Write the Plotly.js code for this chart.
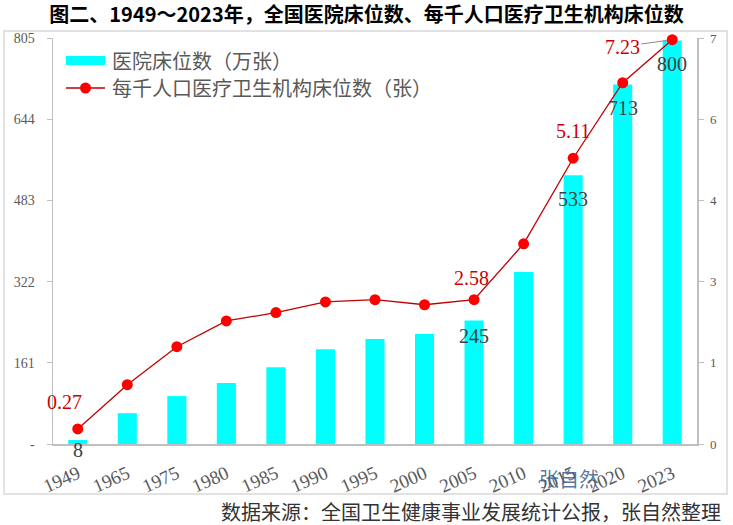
<!DOCTYPE html>
<html>
<head>
<meta charset="utf-8">
<script src="https://cdn.plot.ly/plotly-3.0.1.min.js"></script>
<style>html,body{margin:0;padding:0;background:#fff;}#chart{width:733px;height:525px;}</style>
</head>
<body>
<div id="chart"></div>
<script>
// ---- data ----
const years = ['1949','1965','1975','1980','1985','1990','1995','2000','2005','2010','2015','2020','2023'];
const hospitalBeds = [8, 61, 95, 121, 152, 188, 208, 218, 245, 341, 533, 713, 800];          // 万张
const bedsPerThousand = [0.27, 1.06, 1.74, 2.20, 2.35, 2.54, 2.58, 2.49, 2.58, 3.58, 5.11, 6.46, 7.23]; // 张
const leftTickVals = [0, 161, 322, 483, 644, 805];
const leftTickText = ['-', '161', '322', '483', '644', '805'];
const rightTickVals = [0, 1.452, 2.904, 4.356, 5.808, 7.26];
const rightTickText = ['0', '1', '3', '4', '6', '7'];
const barLabelYears = ['1949', '2005', '2015', '2020', '2023'];
const lineLabelYears = ['1949', '2005', '2015', '2023'];
const barName = '医院床位数（万张）';
const lineName = '每千人口医疗卫生机构床位数（张）';
const titleText = '图二、1949～2023年，全国医院床位数、每千人口医疗卫生机构床位数';
const sourceText = '数据来源：全国卫生健康事业发展统计公报，张自然整理';
const watermarkText = '张自然';

// ---- style helpers ----
const W = 733, H = 525, L = 53, R = 36, T = 38, B = 81;
const pw = W - L - R, ph = H - T - B;
const px = x => (x - L) / pw;
const py = y => (H - B - y) / ph;
const CJK = '"Noto Sans CJK SC", "Noto Sans", sans-serif';
const NUM = '"Liberation Serif", "DejaVu Serif", serif';
const barLabelShift = {'1949': -10, '2005': -16, '2015': -24, '2020': -24, '2023': -23};
const lineLabelOffset = {'1949': [-13, -27], '2005': [-3, -22], '2015': [0, -27]};

const traces = [
  {
    type: 'bar', x: years, y: hospitalBeds, yaxis: 'y', name: barName,
    marker: {color: '#00FFFF'}, showlegend: false, hoverinfo: 'x+y'
  },
  {
    type: 'scatter', mode: 'lines+markers', x: years, y: bedsPerThousand, yaxis: 'y2', name: lineName,
    line: {color: '#C00000', width: 1.3},
    marker: {color: '#FF0000', size: 11},
    cliponaxis: false, showlegend: false
  }
];

const annotations = [];
barLabelYears.forEach(yr => {
  const i = years.indexOf(yr);
  annotations.push({
    x: i, y: hospitalBeds[i], xref: 'x', yref: 'y', text: String(hospitalBeds[i]),
    showarrow: false, yshift: barLabelShift[yr], yanchor: 'middle',
    font: {family: NUM, size: 20, color: '#404040'}
  });
});
lineLabelYears.forEach(yr => {
  const i = years.indexOf(yr);
  const txt = bedsPerThousand[i].toFixed(2);
  if (lineLabelOffset[yr]) {
    annotations.push({
      x: i, y: bedsPerThousand[i], xref: 'x', yref: 'y2', text: txt, showarrow: false,
      xshift: lineLabelOffset[yr][0], yshift: -lineLabelOffset[yr][1],
      font: {family: NUM, size: 20, color: '#CC0000'}
    });
  } else {
    annotations.push({
      x: i, y: bedsPerThousand[i], xref: 'x', yref: 'y2', text: txt,
      showarrow: true, arrowhead: 0, arrowcolor: '#8C8C8C', arrowwidth: 1, standoff: 5,
      ax: -50, ay: 7,
      font: {family: NUM, size: 20, color: '#CC0000'}
    });
  }
});
// legend texts
annotations.push({xref: 'paper', yref: 'paper', x: px(110), y: py(60), xanchor: 'left', yanchor: 'middle',
  text: barName, showarrow: false, font: {family: CJK, size: 20, color: '#595959'}});
annotations.push({xref: 'paper', yref: 'paper', x: px(110), y: py(88), xanchor: 'left', yanchor: 'middle',
  text: lineName, showarrow: false, font: {family: CJK, size: 20, color: '#595959'}});
// source
annotations.push({xref: 'paper', yref: 'paper', x: px(723), y: py(511), xanchor: 'right', yanchor: 'middle',
  text: sourceText, showarrow: false, font: {family: CJK, size: 20, color: '#333333'}});
// watermark
annotations.push({xref: 'paper', yref: 'paper', x: px(569), y: py(478), xanchor: 'center', yanchor: 'middle',
  text: watermarkText, showarrow: false, font: {family: CJK, size: 20, color: 'rgba(60,95,140,0.85)'}});

const shapes = [
  {type: 'rect', xref: 'paper', yref: 'paper', x0: px(4), x1: px(727), y0: py(494), y1: py(31),
   line: {color: '#D9D9D9', width: 1.5}, fillcolor: 'rgba(0,0,0,0)', layer: 'below'},
  {type: 'rect', xref: 'paper', yref: 'paper', x0: px(66), x1: px(105), y0: py(65), y1: py(56),
   line: {width: 0}, fillcolor: '#00FFFF'},
  {type: 'line', xref: 'paper', yref: 'paper', x0: px(66), x1: px(105), y0: py(88), y1: py(88),
   line: {color: '#C00000', width: 1.3}},
  {type: 'circle', xref: 'paper', yref: 'paper', xsizemode: 'pixel', ysizemode: 'pixel',
   xanchor: px(85.5), yanchor: py(88), x0: -5.5, x1: 5.5, y0: -5.5, y1: 5.5,
   line: {width: 0}, fillcolor: '#FF0000'}
];

const layout = {
  width: W, height: H,
  margin: {l: L, r: R, t: T, b: B},
  paper_bgcolor: '#FFFFFF', plot_bgcolor: '#FFFFFF',
  title: {text: titleText, xref: 'container', x: 0.5, xanchor: 'center', y: 1 - 15 / H, yanchor: 'middle',
          font: {family: CJK, size: 20, color: '#000000', weight: 'bold'}},
  bargap: 0.615,
  showlegend: false,
  xaxis: {
    type: 'category', range: [-0.5, years.length - 0.5], autorange: false,
    showline: true, linecolor: '#BFBFBF', linewidth: 1.5, ticks: '',
    tickangle: -24, ticklabelstandoff: 10, showgrid: false, zeroline: false,
    tickfont: {family: NUM, size: 19, color: '#595959'}
  },
  yaxis: {
    range: [0, 805], autorange: false, tickvals: leftTickVals, ticktext: leftTickText,
    showline: true, linecolor: '#BFBFBF', linewidth: 1.5, ticks: 'outside', ticklen: 5, tickcolor: '#BFBFBF',
    ticklabelstandoff: 9, showgrid: false, zeroline: false,
    tickfont: {family: NUM, size: 14, color: '#595959'}
  },
  yaxis2: {
    range: [0, 7.26], autorange: false, overlaying: 'y', side: 'right', tickvals: rightTickVals, ticktext: rightTickText,
    showline: true, linecolor: '#BFBFBF', linewidth: 1.5, ticks: 'outside', ticklen: 5, tickcolor: '#BFBFBF',
    ticklabelstandoff: 4, showgrid: false, zeroline: false,
    tickfont: {family: NUM, size: 13, color: '#595959'}
  },
  annotations: annotations,
  shapes: shapes
};

Plotly.newPlot('chart', traces, layout, {displayModeBar: false, staticPlot: true});
</script>
</body>
</html>
